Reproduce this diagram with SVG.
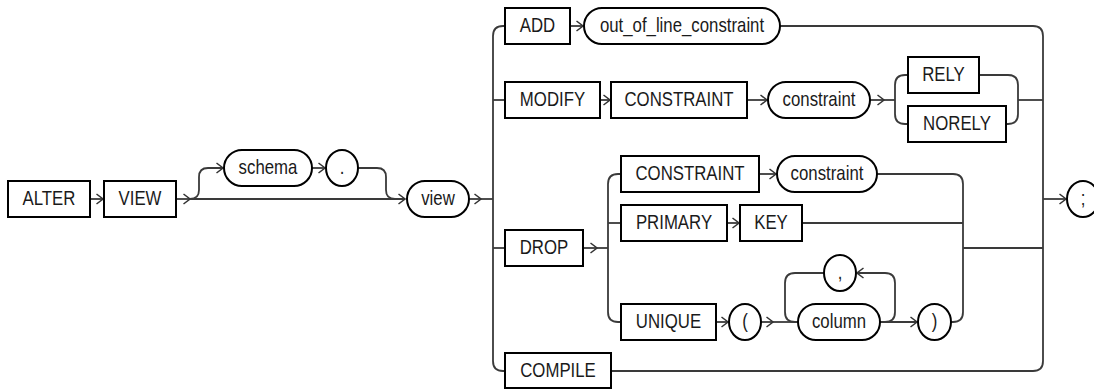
<svg xmlns="http://www.w3.org/2000/svg" width="1094" height="389" viewBox="0 0 1094 389">
<defs>
<marker id="arr" viewBox="0 0 8 12" refX="7.5" refY="6" markerWidth="8" markerHeight="12" markerUnits="userSpaceOnUse" orient="auto">
<path d="M1,1 L7.5,6 L1,11" fill="none" stroke="#333" stroke-width="1.5"/>
</marker>
<style>
.box{fill:#fff;stroke:#000;stroke-width:2}
.ov{fill:#fff;stroke:#000;stroke-width:2}
.ln{fill:none;stroke:#3a3a3a;stroke-width:1.8}
.a{marker-end:url(#arr)}
text{font-family:"Liberation Sans",Arial,sans-serif;font-size:20px;fill:#1a1a1a;text-anchor:middle}
</style>
</defs>
<rect width="1094" height="389" fill="#fff"/>
<g id="connectors">
<path class="ln a" d="M90,199 H103"/>
<path class="ln a" d="M176,199 H190"/>
<path class="ln a" d="M190,199 H405"/>
<path class="ln a" d="M190,199 q9,0 9,-9 V177 q0,-9 9,-9 H223"/>
<path class="ln a" d="M312,168 H325"/>
<path class="ln" d="M358,168 H377 q9,0 9,9 V190 q0,9 9,9 H400"/>
<path class="ln a" d="M469,199 H481"/>
<path class="ln" d="M481,199 H493"/>
<path class="ln" d="M505,26 H503 q-10,0 -10,10 V361 q0,10 10,10 H505"/>
<path class="ln" d="M493,100 H505"/>
<path class="ln" d="M493,248 H505"/>
<path class="ln a" d="M570,26 H583"/>
<path class="ln" d="M780,26 H1033 q10,0 10,10 V361 q0,10 -10,10 H611"/>
<path class="ln a" d="M600,100 H610"/>
<path class="ln a" d="M747,100 H767"/>
<path class="ln a" d="M870,100 H884"/>
<path class="ln" d="M884,100 H895"/>
<path class="ln" d="M908,75 H905 q-10,0 -10,10 V114 q0,10 10,10 H908"/>
<path class="ln" d="M979,75 H1008 q10,0 10,10 V114 q0,10 -10,10 H1006"/>
<path class="ln" d="M1018,100 H1043"/>
<path class="ln a" d="M583,248 H597"/>
<path class="ln" d="M597,248 H608"/>
<path class="ln" d="M621,174 H618 q-10,0 -10,10 V312 q0,10 10,10 H621"/>
<path class="ln" d="M608,223 H621"/>
<path class="ln a" d="M759,174 H776"/>
<path class="ln" d="M877,174 H953 q10,0 10,10 V312 q0,10 -10,10 H951"/>
<path class="ln a" d="M727,223 H739"/>
<path class="ln" d="M802,223 H963"/>
<path class="ln" d="M963,248 H1043"/>
<path class="ln a" d="M716,322 H728"/>
<path class="ln a" d="M761,322 H773"/>
<path class="ln" d="M773,322 H798"/>
<path class="ln" d="M824,273 H795 q-10,0 -10,10 V312 q0,10 10,10 H798"/>
<path class="ln a" d="M880,322 H885 q10,0 10,-10 V283 q0,-10 -10,-10 H857"/>
<path class="ln a" d="M880,322 H917"/>
<path class="ln a" d="M1043,199 H1066"/>
</g>
<g id="n-alter"><rect class="box" x="8" y="181" width="82" height="36"/><text transform="translate(49 205) scale(0.84 1)">ALTER</text></g>
<g id="n-view-kw"><rect class="box" x="104" y="181" width="72" height="36"/><text transform="translate(140 205) scale(0.84 1)">VIEW</text></g>
<g id="n-schema"><rect class="ov" x="224" y="150" width="88" height="36" rx="18"/><text transform="translate(268 174) scale(0.84 1)">schema</text></g>
<g id="n-dot"><rect class="ov" x="326" y="150" width="32" height="36" rx="16" ry="18"/><text transform="translate(342 174) scale(0.84 1)">.</text></g>
<g id="n-view"><rect class="ov" x="407" y="181" width="62" height="36" rx="18"/><text transform="translate(438 205) scale(0.84 1)">view</text></g>
<g id="n-add"><rect class="box" x="505" y="8" width="65" height="36"/><text transform="translate(537.5 32) scale(0.84 1)">ADD</text></g>
<g id="n-ool"><rect class="ov" x="584" y="8" width="196" height="36" rx="18"/><text transform="translate(682 32) scale(0.84 1)">out_of_line_constraint</text></g>
<g id="n-modify"><rect class="box" x="505" y="82" width="95" height="36"/><text transform="translate(552.5 106) scale(0.84 1)">MODIFY</text></g>
<g id="n-constraint-kw1"><rect class="box" x="611" y="82" width="136" height="36"/><text transform="translate(679 106) scale(0.84 1)">CONSTRAINT</text></g>
<g id="n-constraint1"><rect class="ov" x="768" y="82" width="102" height="36" rx="18"/><text transform="translate(819 106) scale(0.84 1)">constraint</text></g>
<g id="n-rely"><rect class="box" x="908" y="57" width="71" height="36"/><text transform="translate(943.5 81) scale(0.84 1)">RELY</text></g>
<g id="n-norely"><rect class="box" x="908" y="106" width="98" height="36"/><text transform="translate(957 130) scale(0.84 1)">NORELY</text></g>
<g id="n-drop"><rect class="box" x="505" y="230" width="78" height="36"/><text transform="translate(544 254) scale(0.84 1)">DROP</text></g>
<g id="n-constraint-kw2"><rect class="box" x="621" y="156" width="138" height="36"/><text transform="translate(690 180) scale(0.84 1)">CONSTRAINT</text></g>
<g id="n-constraint2"><rect class="ov" x="777" y="156" width="100" height="36" rx="18"/><text transform="translate(827 180) scale(0.84 1)">constraint</text></g>
<g id="n-primary"><rect class="box" x="621" y="205" width="106" height="36"/><text transform="translate(674 229) scale(0.84 1)">PRIMARY</text></g>
<g id="n-key"><rect class="box" x="740" y="205" width="62" height="36"/><text transform="translate(771 229) scale(0.84 1)">KEY</text></g>
<g id="n-unique"><rect class="box" x="621" y="304" width="95" height="36"/><text transform="translate(668.5 328) scale(0.84 1)">UNIQUE</text></g>
<g id="n-lparen"><rect class="ov" x="729" y="304" width="32" height="36" rx="16" ry="18"/><text transform="translate(745 328) scale(0.84 1)">(</text></g>
<g id="n-comma"><rect class="ov" x="824" y="255" width="32" height="36" rx="16" ry="18"/><text transform="translate(840 279) scale(0.84 1)">,</text></g>
<g id="n-column"><rect class="ov" x="798" y="304" width="82" height="36" rx="18"/><text transform="translate(839 328) scale(0.84 1)">column</text></g>
<g id="n-rparen"><rect class="ov" x="918" y="304" width="33" height="36" rx="16.5" ry="18"/><text transform="translate(934.5 328) scale(0.84 1)">)</text></g>
<g id="n-compile"><rect class="box" x="505" y="353" width="106" height="35"/><text transform="translate(558 377) scale(0.84 1)">COMPILE</text></g>
<g id="n-semi"><rect class="ov" x="1067" y="181" width="32" height="36" rx="16" ry="18"/><text transform="translate(1083 205) scale(0.84 1)">;</text></g>
</svg>
